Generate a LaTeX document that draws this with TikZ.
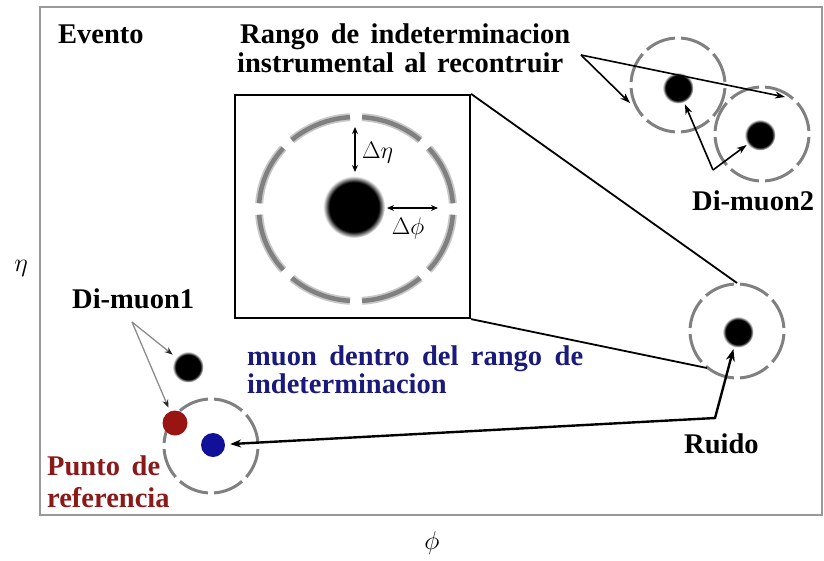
\RequirePackage{fix-cm}
\documentclass[tikz,border=0pt]{standalone}
\usepackage{fontspec}
\setmainfont{Liberation Serif}
\usetikzlibrary{arrows.meta}
\definecolor{dred}{HTML}{8C1919}
\definecolor{dblue}{HTML}{1A1A7C}
\definecolor{dotred}{HTML}{9B1414}
\definecolor{dotblue}{HTML}{10109A}
\pgfdeclareradialshading{blurdot}{\pgfpoint{0bp}{0bp}}{color(0bp)=(black); color(20bp)=(black); color(25bp)=(white); color(50bp)=(white)}
\tikzset{
  bt/.style={font=\bfseries\fontsize{28.5}{32}\selectfont, inner sep=0pt},
  mt/.style={font=\fontsize{24}{28}\selectfont, inner sep=0pt},
  kdot/.style={circle, inner sep=0pt, minimum size=#1, shade, shading=blurdot},
  cdot/.style={circle, inner sep=0pt, minimum size=#1},
  ring/.style={line width=3pt, draw=black!50},
  arr/.style={-{Stealth[length=10pt,width=7pt]}, line width=1.6pt},
  garr/.style={-{Stealth[length=8pt,width=6pt,color=black!85]}, line width=1.3pt, draw=black!45},
  ruarr/.style={{Stealth[length=11pt,width=8pt]}-{Stealth[length=12pt,width=9pt]}, line width=2.4pt},
  darr/.style={{Stealth[length=7pt,width=6pt]}-{Stealth[length=7pt,width=6pt]}, line width=1.6pt},
  zline/.style={line width=1.8pt},
}
\begin{document}
\begin{tikzpicture}[x=1pt,y=-1pt]
\useasboundingbox (0,0) rectangle (824,560);
% frame
\draw[line width=2.8pt, draw=black!40] (40,7) rectangle (822,515);

% centres of the dashed rings
\coordinate (cI) at (356,209);
\coordinate (cA) at (678,85);
\coordinate (cB) at (762,134);
\coordinate (cR) at (737,331);
\coordinate (c1) at (211,446);

% inset
\node[draw, line width=2.2pt, minimum width=235pt, minimum height=223pt, inner sep=0pt] (inset) at (352.5,206.5) {};
\foreach \a in {0,45,...,315}{
  \draw[line width=8pt, draw=black!22] (cI) ++(\a+3.6:97pt and 92pt) arc[start angle=\a+3.6, end angle=\a+41.4, x radius=97pt, y radius=92pt];
  \draw[line width=4.5pt, draw=black!50] (cI) ++(\a+3.6:97pt and 92pt) arc[start angle=\a+3.6, end angle=\a+41.4, x radius=97pt, y radius=92pt];
}
\node[kdot=62pt] (dI) at (354,207) {};
\coordinate (e1) at (355,127);
\coordinate (e2) at (355,172);
\coordinate (f1) at (387,208);
\coordinate (f2) at (438,208);
\draw[darr] (e1) -- (e2);
\draw[darr] (f1) -- (f2);
\node[mt, anchor=west] (deta) at (362,153) {$\Delta\eta$};
\node[mt] (dphi) at (408,228) {$\Delta\phi$};

% small dashed rings
\foreach \c in {cA,cB,cR,c1}{
  \foreach \a in {0,45,...,315}
    \draw[ring] (\c) ++(\a+3.7:47pt) arc[start angle=\a+3.7, end angle=\a+41.3, radius=47pt];
}

% dots
\node[kdot=31pt] (dA) at (678,88) {};
\node[kdot=31pt] (dB) at (760,135) {};
\node[kdot=31pt] (dR) at (738,332) {};
\node[kdot=31pt] (dK) at (188,367) {};
\node[cdot=25pt, fill=dotred] (dRed) at (175,423) {};
\node[cdot=24pt, fill=dotblue] (dBlue) at (213,445) {};

% texts
\node[bt, anchor=base west] (ev) at (58,43) {Evento};
\node[bt, anchor=base west] (rg1) at (240,43) {\makebox[330pt][s]{Rango de indeterminacion}};
\node[bt, anchor=base west] (rg2) at (237,72) {\makebox[326pt][s]{instrumental al recontruir}};
\node[bt, anchor=base west, text=dblue] (mu1) at (247,365) {\makebox[336pt][s]{muon dentro del rango de}};
\node[bt, anchor=base west, text=dblue] (mu2) at (247,393) {indeterminacion};
\node[bt, anchor=base west, text=dred] (pu1) at (47,475) {\makebox[113pt][s]{Punto de}};
\node[bt, anchor=base west, text=dred] (pu2) at (47,507) {referencia};
\node[bt, anchor=base west] (ru) at (684,453) {Ruido};
\node[bt, anchor=base west] (dm2) at (692,210) {Di-muon2};
\node[bt, anchor=base west] (dm1) at (72,308) {Di-muon1};
\node[mt, font=\fontsize{26}{30}\selectfont] (eta) at (21,268) {$\eta$};
\node[mt, font=\fontsize{26}{30}\selectfont] (phi) at (432,543) {$\phi$};

% zoom lines
\coordinate (zt) at (737,283);
\coordinate (zb) at (707,368);
\draw[zline] (inset.north east) -- (zt);
\draw[zline] (inset.south east) -- (zb);

% range arrows
\coordinate (rg) at (581,55);
\coordinate (tA) at (630,103);
\coordinate (tB) at (785,97);
\draw[arr] (rg) -- (tA);
\draw[arr] (rg) -- (tB);

% Di-muon2 arrows
\coordinate (d2) at (713,170);
\draw[arr, shorten >=2pt] (d2) -- (dA);
\draw[arr, shorten >=1pt] (d2) -- (dB);

% Di-muon1 arrows
\coordinate (d1) at (132,322);
\draw[garr, shorten >=4pt] (d1) -- (dK);
\draw[garr, shorten >=4pt] (d1) -- (dRed);

% Ruido arrows
\coordinate (rc) at (715,418);
\draw[ruarr, shorten <=5pt, shorten >=2pt] (dBlue) -- (rc) -- (dR);
\end{tikzpicture}
\end{document}
